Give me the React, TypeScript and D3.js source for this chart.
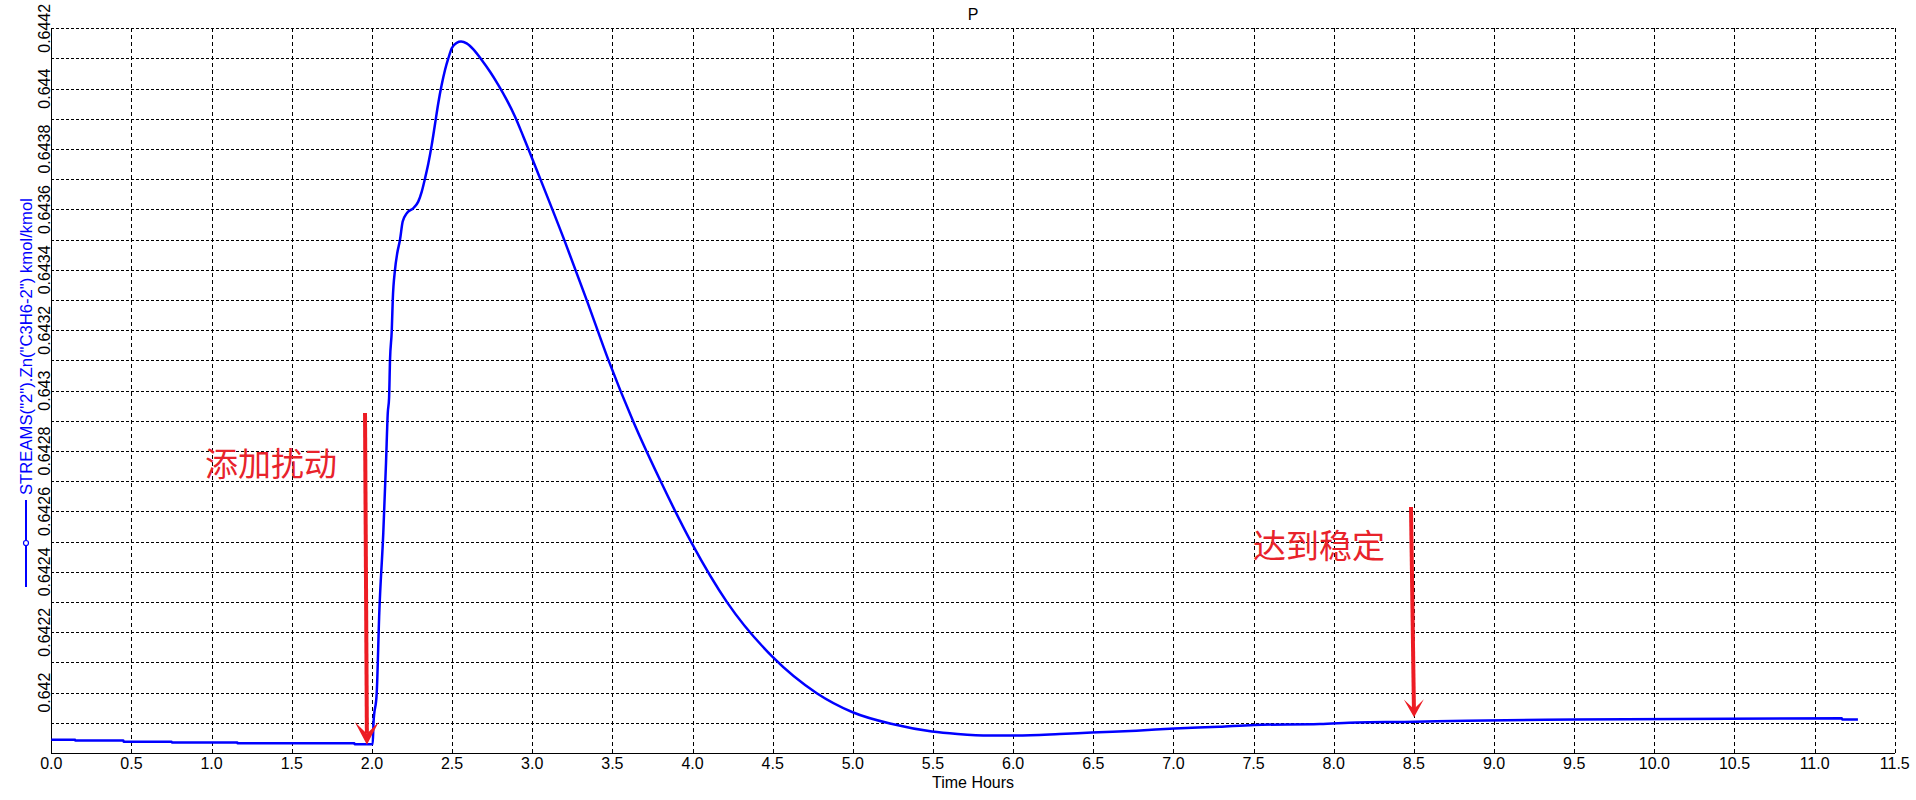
import React from "react";
import * as d3 from "d3";

// ---- data ----
const timeHours: number[] = [
  0, 0.148, 0.15, 0.45, 0.452, 0.75, 0.752, 1.16, 1.162, 1.89, 1.892, 2.005,
  2.01, 2.03, 2.046, 2.071, 2.088, 2.099, 2.107, 2.113, 2.124, 2.13, 2.144,
  2.158, 2.175, 2.192, 2.217, 2.258, 2.289, 2.311, 2.331, 2.352, 2.373, 2.394,
  2.414, 2.435, 2.456, 2.477, 2.498, 2.529, 2.556, 2.591, 2.633, 2.685, 2.737,
  2.789, 2.841, 2.893, 2.945, 3.049, 3.205, 3.34, 3.475, 3.631, 3.802, 3.995,
  4.217, 4.498, 4.775, 4.999, 5.253, 5.494, 5.653, 5.852, 6.004, 6.29, 6.49,
  6.769, 7.007, 7.286, 7.505, 7.913, 8.145, 8.44, 8.83, 9.505, 11.17, 11.172,
  11.27,
];
const znC3H6: number[] = [
  0.641844, 0.641844, 0.641841, 0.641841, 0.641837, 0.641837, 0.641835,
  0.641835, 0.641832, 0.641832, 0.641829, 0.641829, 0.6419, 0.641999,
  0.642264, 0.642529, 0.642761, 0.642926, 0.642975, 0.643102, 0.643201,
  0.6433, 0.6434, 0.643455, 0.643499, 0.64356, 0.643587, 0.643604, 0.643626,
  0.643659, 0.643702, 0.643752, 0.643813, 0.643884, 0.643952, 0.644012,
  0.644062, 0.644101, 0.644134, 0.644152, 0.644156, 0.64415, 0.64413,
  0.644095, 0.644056, 0.644012, 0.643963, 0.643907, 0.643841, 0.643703,
  0.643492, 0.6433, 0.643102, 0.642897, 0.642699, 0.642495, 0.642298,
  0.642119, 0.641998, 0.641935, 0.641895, 0.641871, 0.641863, 0.641858,
  0.641858, 0.641863, 0.641868, 0.641874, 0.641881, 0.641887, 0.641893,
  0.641896, 0.641901, 0.641903, 0.641907, 0.641911, 0.641915, 0.641911,
  0.641911,
];

const xTicks: number[] = d3.range(0, 11.5001, 0.5);
const yGrid: number[] = d3.range(0, 25).map((i) => +(0.6418 + i * 0.0001).toFixed(4));
const yLabels: number[] = d3.range(0, 12).map((i) => +(0.642 + i * 0.0002).toFixed(4));

const chartTitle = "P";
const xTitle = "Time Hours";
const yTitle = 'STREAMS("2").Zn("C3H6-2") kmol/kmol';

// annotations in data coordinates
const annotationTexts = ["添加扰动", "达到稳定"];
const annotationTextX = [0.959, 7.497];
const annotationTextY = [0.642718, 0.642446];
const arrowX0 = [1.957, 8.482];
const arrowY0 = [0.642926, 0.642615];
const arrowX1 = [1.969, 8.501];
const arrowY1 = [0.641827, 0.641918];
const arrowHeadLen = [20, 15];
const arrowHeadHalf = [12, 10];

const W = 1916;
const H = 800;
const M = { left: 51.3, right: 21.2, top: 28.3, bottom: 47 };

export default function App() {
  const x = d3.scaleLinear().domain([0, 11.5]).range([M.left, W - M.right]);
  const y = d3.scaleLinear().domain([0.6418, 0.6442]).range([H - M.bottom, M.top]);
  const pts = timeHours.map((t, i) => [t, znC3H6[i]] as [number, number]);
  const line = d3
    .line<[number, number]>()
    .x((d) => x(d[0]))
    .y((d) => y(d[1]))
    .curve(d3.curveMonotoneX);
  const fmt = (v: number) => String(+v.toFixed(4));
  const font = "'Liberation Sans', Arial, sans-serif";
  const x0 = x(0);
  const x1 = x(11.5);
  const yb = y(0.6418);
  const yt = y(0.6442);
  const red = "#ED1C24";

  return (
    <svg
      width={W}
      height={H}
      style={{ position: "absolute", left: 0, top: 0, display: "block", background: "#fff" }}
      fontFamily={font}
    >
      <rect x={0} y={0} width={W} height={H} fill="#fff" />
      {/* horizontal grid */}
      {yGrid.map((v) => (
        <line
          key={"hg" + v}
          x1={x0}
          x2={x1}
          y1={Math.round(y(v)) + 0.5}
          y2={Math.round(y(v)) + 0.5}
          stroke="#000"
          strokeWidth={1}
          strokeDasharray="3,2"
          shapeRendering="crispEdges"
        />
      ))}
      {/* vertical grid */}
      {xTicks.map((t) => (
        <line
          key={"vg" + t}
          x1={Math.round(x(t)) + 0.5}
          x2={Math.round(x(t)) + 0.5}
          y1={yt}
          y2={yb}
          stroke="#000"
          strokeWidth={1}
          strokeDasharray="4,3"
          shapeRendering="crispEdges"
        />
      ))}
      {/* axes */}
      <line x1={Math.round(x0) + 0.5} x2={Math.round(x0) + 0.5} y1={yt} y2={yb} stroke="#000" strokeWidth={1.5} shapeRendering="crispEdges" />
      <line x1={x0} x2={x1} y1={Math.round(yb) + 0.5} y2={Math.round(yb) + 0.5} stroke="#000" strokeWidth={1.5} shapeRendering="crispEdges" />

      {/* x labels */}
      {xTicks.map((t) => (
        <text key={"xl" + t} x={x(t)} y={yb + 16} textAnchor="middle" fontSize={16} fill="#000">
          {t.toFixed(1)}
        </text>
      ))}
      {/* y labels */}
      {yLabels.map((v) => (
        <text
          key={"yl" + v}
          transform={`translate(${x0 - 1.5},${y(v)}) rotate(-90)`}
          textAnchor="middle"
          fontSize={16}
          fill="#000"
        >
          {fmt(v)}
        </text>
      ))}

      {/* titles */}
      <text x={(x0 + x1) / 2} y={20} textAnchor="middle" fontSize={16} fill="#000">
        {chartTitle}
      </text>
      <text x={(x0 + x1) / 2} y={788} textAnchor="middle" fontSize={16} fill="#000">
        {xTitle}
      </text>
      <text
        transform={`translate(32,495) rotate(-90)`}
        textAnchor="start"
        fontSize={16}
        fill="#0000FF"
        textLength={297}
        lengthAdjust="spacingAndGlyphs"
      >
        {yTitle}
      </text>
      {/* legend marker */}
      <line x1={26} x2={26} y1={500} y2={587} stroke="#0000FF" strokeWidth={2} />
      <circle cx={26} cy={543} r={2.5} fill="#fff" stroke="#0000FF" strokeWidth={1.2} />

      {/* data line */}
      <path d={line(pts) || ""} fill="none" stroke="#0000FF" strokeWidth={2.5} strokeLinejoin="round" />

      {/* annotations */}
      {annotationTexts.map((s, i) => {
        const ax0 = x(arrowX0[i]);
        const ay0 = y(arrowY0[i]);
        const ax1 = x(arrowX1[i]);
        const ay1 = y(arrowY1[i]);
        const ang = Math.atan2(ay1 - ay0, ax1 - ax0);
        const L = arrowHeadLen[i];
        const Hh = arrowHeadHalf[i];
        const bx = ax1 - L * Math.cos(ang);
        const by = ay1 - L * Math.sin(ang);
        const nx = -Math.sin(ang);
        const ny = Math.cos(ang);
        const notchX = ax1 - L * 0.55 * Math.cos(ang);
        const notchY = ay1 - L * 0.55 * Math.sin(ang);
        const head = `M${ax1},${ay1} L${bx + nx * Hh},${by + ny * Hh - 3} L${notchX},${notchY} L${bx - nx * Hh},${by - ny * Hh - 3} Z`;
        return (
          <g key={"ann" + i}>
            <text
              x={x(annotationTextX[i])}
              y={y(annotationTextY[i])}
              fontSize={33}
              fill="#E8232B"
              fontFamily="'Noto Sans CJK SC', sans-serif"
            >
              {s}
            </text>
            <line x1={ax0} y1={ay0} x2={notchX} y2={notchY} stroke={red} strokeWidth={4} />
            <path d={head} fill={red} />
          </g>
        );
      })}
    </svg>
  );
}
